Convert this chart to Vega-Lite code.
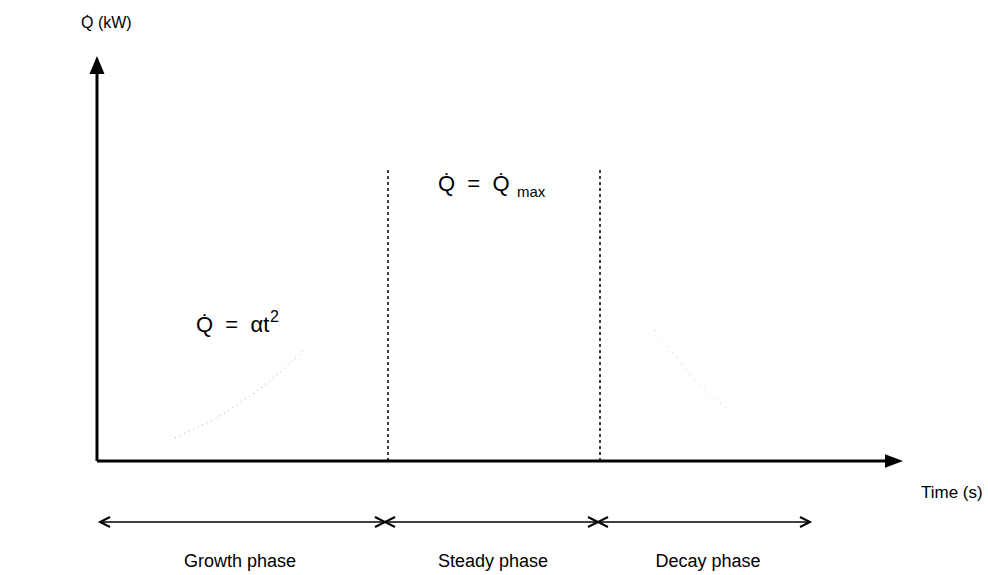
{
  "$schema": "https://vega.github.io/schema/vega-lite/v6.json",
  "width": 988,
  "height": 575,
  "padding": 0,
  "autosize": {"type": "fit", "contains": "padding"},
  "background": "white",
  "config": {"view": {"stroke": null}, "text": {"font": "Liberation Sans", "color": "black"}},
  "datasets": {
    "axes": [
      {"name": "y axis", "t": 0, "q": 0, "t2": 0, "q2": 392},
      {"name": "x axis", "t": 0, "q": 0, "t2": 790, "q2": 0}
    ],
    "heads": [
      {"name": "y head", "t": 0, "q": 396, "dir": "up"},
      {"name": "x head", "t": 797, "q": 0, "dir": "right"}
    ],
    "bounds": [
      {"phase": "end of growth", "t": 291, "q": 0, "q2": 293},
      {"phase": "end of steady", "t": 503, "q": 0, "q2": 293}
    ],
    "phaseLine": [
      {"t": 3, "q": -61, "t2": 713}
    ],
    "chevrons": [
      {"t": 3, "q": -61, "dir": "left"},
      {"t": 288, "q": -61, "dir": "right"},
      {"t": 288, "q": -61, "dir": "left"},
      {"t": 501, "q": -61, "dir": "right"},
      {"t": 501, "q": -61, "dir": "left"},
      {"t": 713, "q": -61, "dir": "right"}
    ],
    "growth": [
      {"t": 78, "q": 23}, {"t": 84, "q": 26}, {"t": 120, "q": 43}, {"t": 156, "q": 67},
      {"t": 180, "q": 86}, {"t": 203, "q": 107}, {"t": 206, "q": 110}
    ],
    "decay": [
      {"t": 558, "q": 131}, {"t": 596, "q": 83}, {"t": 618, "q": 62}, {"t": 631, "q": 52}
    ],
    "labelsFormula": [
      {"label": "Q̇ \u00a0= \u00a0αt", "t": 99, "q": 129},
      {"label": "Q̇ \u00a0= \u00a0Q̇", "t": 341, "q": 270}
    ],
    "labelsSup": [
      {"label": "2", "t": 173, "q": 139}
    ],
    "labelsSub": [
      {"label": "max", "t": 420, "q": 264}
    ],
    "labelsAxis": [
      {"label": "Time (s)", "t": 824, "q": -37}
    ],
    "labelsYAxis": [
      {"label": "Q̇ (kW)", "t": -16, "q": 433}
    ],
    "labelsPhase": [
      {"label": "Growth phase", "t": 143, "q": -106},
      {"label": "Steady phase", "t": 396, "q": -106},
      {"label": "Decay phase", "t": 611, "q": -106}
    ]
  },
  "encoding": {
    "x": {"field": "t", "type": "quantitative", "axis": null, "scale": {"domain": [-97, 891], "nice": false, "zero": false}},
    "y": {"field": "q", "type": "quantitative", "axis": null, "scale": {"domain": [-114, 461], "nice": false, "zero": false}}
  },
  "layer": [
    {
      "data": {"name": "growth"},
      "mark": {"type": "line", "color": "#b0b0b0", "strokeWidth": 1, "strokeDash": [1, 4]},
      "encoding": {}
    },
    {
      "data": {"name": "decay"},
      "mark": {"type": "line", "color": "#c0c0c0", "strokeWidth": 1, "strokeDash": [1, 6]},
      "encoding": {}
    },
    {
      "data": {"name": "bounds"},
      "mark": {"type": "rule", "color": "black", "strokeWidth": 1.5, "strokeDash": [3, 3]},
      "encoding": {"y2": {"field": "q2"}}
    },
    {
      "data": {"name": "axes"},
      "mark": {"type": "rule", "color": "black", "strokeWidth": 3},
      "encoding": {"x2": {"field": "t2"}, "y2": {"field": "q2"}}
    },
    {
      "data": {"name": "heads"},
      "transform": [{"filter": "datum.dir === 'up'"}],
      "mark": {"type": "point", "filled": true, "color": "black", "opacity": 1, "size": 225, "strokeWidth": 0, "shape": "M0,-1.2L1,1.2L-1,1.2Z"},
      "encoding": {}
    },
    {
      "data": {"name": "heads"},
      "transform": [{"filter": "datum.dir === 'right'"}],
      "mark": {"type": "point", "filled": true, "color": "black", "opacity": 1, "size": 225, "strokeWidth": 0, "shape": "M1.2,0L-1.2,-0.9L-1.2,0.9Z"},
      "encoding": {}
    },
    {
      "data": {"name": "phaseLine"},
      "mark": {"type": "rule", "color": "black", "strokeWidth": 1.5},
      "encoding": {"x2": {"field": "t2"}}
    },
    {
      "data": {"name": "chevrons"},
      "transform": [{"filter": "datum.dir === 'left'"}],
      "mark": {"type": "point", "filled": false, "color": "black", "opacity": 1, "size": 100, "strokeWidth": 2, "shape": "M2,-1L0,0L2,1"},
      "encoding": {}
    },
    {
      "data": {"name": "chevrons"},
      "transform": [{"filter": "datum.dir === 'right'"}],
      "mark": {"type": "point", "filled": false, "color": "black", "opacity": 1, "size": 100, "strokeWidth": 2, "shape": "M-2,-1L0,0L-2,1"},
      "encoding": {}
    },
    {
      "data": {"name": "labelsFormula"},
      "mark": {"type": "text", "fontSize": 22, "align": "left", "baseline": "alphabetic"},
      "encoding": {"text": {"field": "label"}}
    },
    {
      "data": {"name": "labelsSup"},
      "mark": {"type": "text", "fontSize": 16, "align": "left", "baseline": "alphabetic"},
      "encoding": {"text": {"field": "label"}}
    },
    {
      "data": {"name": "labelsSub"},
      "mark": {"type": "text", "fontSize": 15, "align": "left", "baseline": "alphabetic"},
      "encoding": {"text": {"field": "label"}}
    },
    {
      "data": {"name": "labelsAxis"},
      "mark": {"type": "text", "fontSize": 17, "align": "left", "baseline": "alphabetic"},
      "encoding": {"text": {"field": "label"}}
    },
    {
      "data": {"name": "labelsYAxis"},
      "mark": {"type": "text", "fontSize": 16, "align": "left", "baseline": "alphabetic"},
      "encoding": {"text": {"field": "label"}}
    },
    {
      "data": {"name": "labelsPhase"},
      "mark": {"type": "text", "fontSize": 18, "align": "center", "baseline": "alphabetic"},
      "encoding": {"text": {"field": "label"}}
    }
  ]
}
